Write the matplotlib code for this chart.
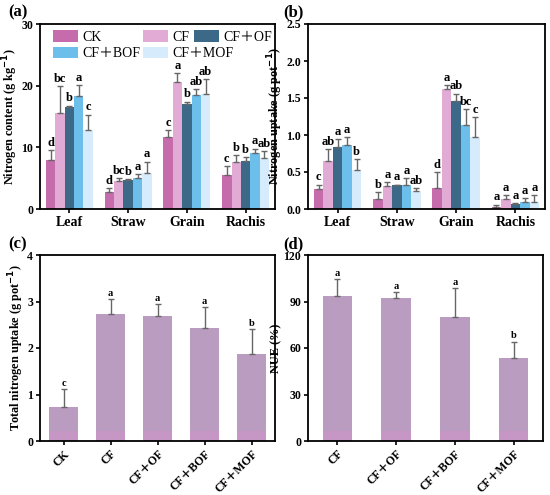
import numpy as np
import matplotlib
matplotlib.use("Agg")
import matplotlib.pyplot as plt

plt.rcParams['font.family'] = ['Liberation Serif', 'Noto Sans CJK SC', 'DejaVu Serif']
plt.rcParams['font.weight'] = 'bold'

treatments = ['CK', 'CF', 'CF＋OF', 'CF＋BOF', 'CF＋MOF']
organs = ['Leaf', 'Straw', 'Grain', 'Rachis']
colors = ['#c66cad', '#e2abd6', '#3c6988', '#6cbeeb', '#d6ebfb']

# (a) Nitrogen content, rows = treatments, cols = organs
n_content = [
    [7.9, 2.7, 11.7, 5.5],
    [15.5, 4.6, 20.6, 7.55],
    [16.6, 4.75, 17.0, 7.8],
    [18.3, 5.0, 18.5, 9.1],
    [12.8, 5.9, 18.6, 8.3],
]
n_content_err = [
    [1.6, 0.7, 1.1, 1.5],
    [4.4, 0.4, 1.4, 1.15],
    [0.15, 0.1, 0.4, 0.6],
    [1.8, 0.7, 0.9, 0.7],
    [2.5, 1.8, 2.5, 1.1],
]
n_content_letters = [
    ['d', 'd', 'c', 'c'],
    ['bc', 'bc', 'a', 'b'],
    ['b', 'b', 'b', 'b'],
    ['a', 'a', 'ab', 'a'],
    ['c', 'a', 'ab', 'ab'],
]

# (b) Nitrogen uptake
n_uptake = [
    [0.27, 0.135, 0.29, 0.03],
    [0.65, 0.315, 1.62, 0.135],
    [0.84, 0.325, 1.46, 0.063],
    [0.86, 0.325, 1.14, 0.10],
    [0.53, 0.25, 0.97, 0.10],
]
n_uptake_err = [
    [0.06, 0.09, 0.21, 0.03],
    [0.165, 0.055, 0.06, 0.055],
    [0.11, 0.005, 0.10, 0.017],
    [0.11, 0.095, 0.21, 0.05],
    [0.15, 0.03, 0.27, 0.09],
]
n_uptake_letters = [
    ['c', 'b', 'd', 'a'],
    ['ab', 'a', 'a', 'a'],
    ['a', 'a', 'ab', 'a'],
    ['a', 'a', 'bc', 'a'],
    ['b', 'ab', 'c', 'a'],
]

# (c) Total nitrogen uptake
total_labels = ['CK', 'CF', 'CF＋OF', 'CF＋BOF', 'CF＋MOF']
total_uptake = [0.74, 2.73, 2.69, 2.43, 1.88]
total_err = [0.37, 0.32, 0.25, 0.45, 0.52]
total_letters = ['c', 'a', 'a', 'a', 'b']
total_base = [0.22, 0.22, 0.22, 0.22, 0.22]

# (d) NUE
nue_labels = ['CF', 'CF＋OF', 'CF＋BOF', 'CF＋MOF']
nue = [93.5, 92.0, 79.8, 53.3]
nue_err = [10.8, 3.9, 18.7, 10.8]
nue_letters = ['a', 'a', 'a', 'b']
nue_base = [6.5, 6.5, 6.5, 6.5]

bar_main = '#ba9cc0'
bar_base = '#c697c4'
ecol = '#666666'

fig = plt.figure(figsize=(5.5, 4.95), dpi=100)
W, H = 550, 495
def add_ax(x0, y0, x1, y1):
    return fig.add_axes([x0 / W, (H - y1) / H, (x1 - x0) / W, (y1 - y0) / H])

axa = add_ax(40, 24, 275, 209)
axb = add_ax(308, 24, 545, 209)
axc = add_ax(40, 255, 275, 441)
axd = add_ax(308, 255, 543, 441)

def style(ax):
    for s in ax.spines.values():
        s.set_linewidth(1.3)
    ax.tick_params(axis='both', width=1.2, length=3, direction='out', pad=2)
    for lab in ax.get_xticklabels() + ax.get_yticklabels():
        lab.set_fontweight('bold')

def grouped(ax, vals, errs, letters, ylim, yticks, fmt, ylabel, off):
    x = np.arange(len(organs))
    bw = 0.16
    handles = []
    for i, t in enumerate(treatments):
        pos = x + (i - 2) * bw
        v = np.array(vals[i]); e = np.array(errs[i])
        h = ax.bar(pos, v, bw, color=colors[i], label=t, linewidth=0)
        handles.append(h)
        ax.errorbar(pos, v, yerr=[np.zeros_like(e), e], fmt='none',
                    ecolor=ecol, elinewidth=1, capsize=2.2, capthick=1)
        for p, vv, ee, l in zip(pos, v, e, letters[i]):
            ax.text(p, vv + ee + off, l, ha='center', va='bottom',
                    fontsize=9, fontweight='bold')
    ax.set_xlim(-0.5, 3.5)
    ax.set_ylim(*ylim)
    ax.set_yticks(yticks)
    ax.set_yticklabels([fmt.format(t) for t in yticks], fontsize=8.5)
    ax.set_xticks(x)
    ax.set_xticklabels(organs, fontsize=10)
    ax.set_ylabel(ylabel, fontsize=8.8, fontweight='bold', labelpad=1)
    style(ax)
    return handles

grouped(axb, n_uptake, n_uptake_err, n_uptake_letters, (0, 2.5),
        [0, 0.5, 1.0, 1.5, 2.0, 2.5], '{:.1f}', 'Nitrogen uptake (g pot$^{\\mathbf{-1}}$)', 0.015)
hs = grouped(axa, n_content, n_content_err, n_content_letters, (0, 30), [0, 10, 20, 30],
             '{:.0f}', 'Nitrogen content (g kg$^{\\mathbf{-1}}$)', 0.2)

leg_kw = dict(frameon=False, handlelength=1.8, handleheight=0.9, columnspacing=0.15,
              handletextpad=0.35, labelspacing=0.2, borderaxespad=0.0, borderpad=0.0,
              prop={'weight': 'normal', 'size': 10})
order = [0, 3, 1, 4]
leg1 = axa.legend([hs[k] for k in order], [treatments[k] for k in order], ncol=2,
                  loc='upper left', bbox_to_anchor=(0.055, 0.965), **leg_kw)
axa.add_artist(leg1)
axa.legend([hs[2]], [treatments[2]], ncol=1, loc='upper left',
           bbox_to_anchor=(0.655, 0.965), **leg_kw)

def single(ax, labels, vals, errs, letters, base, ylim, yticks, ylabel, bw, off):
    x = np.arange(len(labels))
    ax.bar(x, vals, bw, color=bar_main, linewidth=0)
    ax.bar(x, np.minimum(base, vals), bw, color=bar_base, linewidth=0)
    ax.errorbar(x, vals, yerr=[np.zeros(len(errs)), errs], fmt='none',
                ecolor=ecol, elinewidth=1, capsize=2.2, capthick=1)
    for p, v, e, l in zip(x, vals, errs, letters):
        ax.text(p, v + e + off, l, ha='center', va='bottom', fontsize=7.5, fontweight='bold')
    ax.set_xlim(-0.5, len(labels) - 0.5)
    ax.set_ylim(*ylim)
    ax.set_yticks(yticks)
    ax.set_yticklabels([str(t) for t in yticks], fontsize=8.5)
    ax.set_xticks(x)
    ax.set_xticklabels(labels, rotation=45, ha='right', rotation_mode='anchor', fontsize=8.5)
    ax.set_ylabel(ylabel, fontsize=8.8, fontweight='bold', labelpad=1)
    style(ax)

single(axc, total_labels, total_uptake, total_err, total_letters, total_base,
       (0, 4), [0, 1, 2, 3, 4], 'Total nitrogen uptake (g pot$^{\\mathbf{-1}}$)', 0.62, 0.03)
single(axd, nue_labels, nue, nue_err, nue_letters, nue_base,
       (0, 120), [0, 30, 60, 90, 120], 'NUE (%)', 0.5, 1.0)

for ax, lab, (px, py) in [(axa, '(a)', (8, 12)), (axb, '(b)', (283, 12)),
                          (axc, '(c)', (8, 244)), (axd, '(d)', (283, 244))]:
    fig.text(px / W, 1 - py / H, lab, fontsize=12, fontweight='bold', ha='left', va='center')

fig.savefig('out.png', dpi=100)
